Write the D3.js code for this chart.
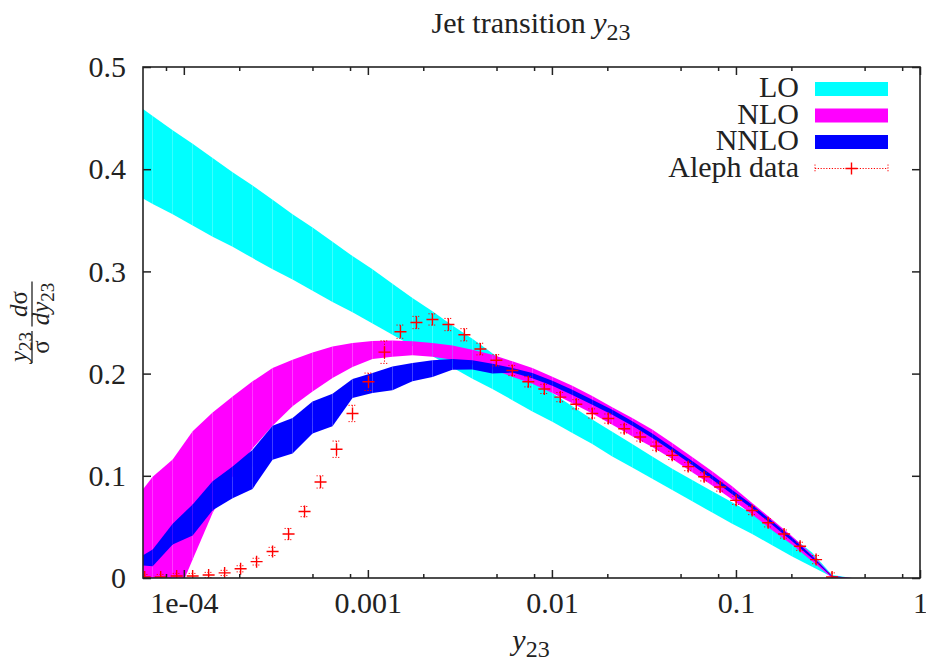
<!DOCTYPE html>
<html>
<head>
<meta charset="utf-8">
<script src="https://cdn.jsdelivr.net/npm/d3@7"></script>
<style>
  body { margin: 0; background: #fff; }
  text { font-family: "Liberation Serif", "DejaVu Serif", serif; fill: #222; }
</style>
</head>
<body>
<script>
// theory bands, sampled in y23
const bandX = [5.275e-5, 6.773e-5, 8.697e-5, 1.1167e-4, 1.4338e-4, 1.8411e-4, 2.364e-4, 3.0354e-4,
  3.8975e-4, 5.0045e-4, 6.4259e-4, 8.251e-4, 1.0595e-3, 1.3604e-3, 1.7467e-3, 2.2429e-3,
  2.8799e-3, 3.6979e-3, 4.7482e-3, 6.0967e-3, 7.8284e-3, 1.00518e-2, 1.2907e-2, 1.6573e-2,
  2.128e-2, 2.7324e-2, 3.5084e-2, 4.5049e-2, 5.7844e-2, 7.4274e-2, 9.5369e-2, 0.122456,
  0.157237, 0.201897, 0.25924, 0.332871, 0.427415];

const loHi = [0.466, 0.452, 0.438, 0.425, 0.411, 0.397, 0.384, 0.370, 0.356, 0.343, 0.329, 0.315,
  0.302, 0.288, 0.274, 0.261, 0.247, 0.234, 0.220, 0.207, 0.194, 0.181, 0.168, 0.155, 0.143,
  0.131, 0.119, 0.107, 0.096, 0.085, 0.074, 0.063, 0.052, 0.040, 0.025, 0.003, 0.0];
const loLo = [0.377, 0.366, 0.356, 0.345, 0.334, 0.324, 0.313, 0.302, 0.292, 0.281, 0.270, 0.260,
  0.249, 0.238, 0.227, 0.217, 0.206, 0.195, 0.185, 0.174, 0.163, 0.153, 0.142, 0.131, 0.119,
  0.108, 0.097, 0.086, 0.075, 0.064, 0.053, 0.043, 0.032, 0.021, 0.011, 0.001, 0.0];

const nloHi = [0.074, 0.099, 0.116, 0.1435, 0.162, 0.1777, 0.1924, 0.2055, 0.2136, 0.2207, 0.2266,
  0.2299, 0.232, 0.2325, 0.2316, 0.230, 0.2276, 0.2234, 0.2185, 0.212, 0.2055, 0.197, 0.188,
  0.178, 0.167, 0.1566, 0.1452, 0.1322, 0.1185, 0.1044, 0.0897, 0.0735, 0.0572, 0.0409, 0.023,
  0.002, 0.0];
const nloLo = [-0.12, -0.075, -0.028, 0.018, 0.0637, 0.0995, 0.127, 0.149, 0.168, 0.1826, 0.1957,
  0.2065, 0.2143, 0.2165, 0.218, 0.2165, 0.2135, 0.209, 0.204, 0.197, 0.190, 0.181, 0.171, 0.161,
  0.150, 0.1386, 0.1283, 0.1165, 0.1034, 0.0904, 0.0767, 0.0621, 0.0467, 0.0325, 0.0164, 0.0, 0.0];

const nnloHi = [0.016, 0.028, 0.053, 0.072, 0.0946, 0.109, 0.1256, 0.149, 0.1566, 0.1728, 0.1804,
  0.1947, 0.2006, 0.207, 0.2104, 0.213, 0.2143, 0.213, 0.2097, 0.2055, 0.2006, 0.1931, 0.1843,
  0.1745, 0.1647, 0.1533, 0.1413, 0.128, 0.1145, 0.1005, 0.0862, 0.0716, 0.0555, 0.0395, 0.0215,
  0.002, 0.0];
const nnloLo = [0.013, 0.0115, 0.0327, 0.0415, 0.0663, 0.078, 0.0872, 0.1158, 0.1217, 0.1413, 0.1484,
  0.1762, 0.181, 0.1836, 0.1924, 0.1967, 0.2038, 0.204, 0.200, 0.201, 0.1955, 0.188, 0.179, 0.1695,
  0.1598, 0.149, 0.137, 0.124, 0.1105, 0.0965, 0.082, 0.068, 0.052, 0.036, 0.019, 0.001, 0.0];

// Aleph data
const dataX = [6.128e-5, 7.485e-5, 9.142e-5, 1.1167e-4, 1.3639e-4, 1.6659e-4, 2.0347e-4, 2.4852e-4,
  3.0354e-4, 3.7074e-4, 4.5283e-4, 5.5308e-4, 6.7554e-4, 8.251e-4, 1.00779e-3, 1.2309e-3,
  1.5034e-3, 1.8363e-3, 2.2429e-3, 2.7394e-3, 3.346e-3, 4.0868e-3, 4.9916e-3, 6.0967e-3,
  7.4466e-3, 9.0953e-3, 1.1109e-2, 1.3569e-2, 1.6573e-2, 2.0242e-2, 2.4724e-2, 3.0197e-2,
  3.6883e-2, 4.5049e-2, 5.5023e-2, 6.7206e-2, 8.2085e-2, 0.100259, 0.122456, 0.149569,
  0.182684, 0.22313, 0.272532, 0.332871];
const dataY = [0.001, 0.001, 0.002, 0.002, 0.003, 0.005, 0.009, 0.016, 0.026, 0.043, 0.065, 0.094,
  0.126, 0.161, 0.192, 0.221, 0.241, 0.250, 0.253, 0.248, 0.238, 0.224, 0.213, 0.203, 0.192,
  0.185, 0.177, 0.170, 0.161, 0.156, 0.146, 0.138, 0.129, 0.120, 0.109, 0.099, 0.089, 0.076,
  0.066, 0.054, 0.043, 0.031, 0.018, 0.001];
const dataErr = [0.0025, 0.0025, 0.0025, 0.0025, 0.0025, 0.0025, 0.003, 0.0033, 0.004, 0.0055, 0.005,
  0.006, 0.008, 0.008, 0.0085, 0.011, 0.0065, 0.006, 0.0055, 0.006, 0.006, 0.0057, 0.0055, 0.005,
  0.005, 0.0045, 0.0045, 0.0045, 0.0045, 0.0045, 0.004, 0.004, 0.004, 0.004, 0.004, 0.004, 0.004,
  0.004, 0.004, 0.004, 0.004, 0.004, 0.004, 0.004];

const xTicks = [1e-4, 1e-3, 1e-2, 1e-1, 1];
const xTickLabels = ["1e-04", "0.001", "0.01", "0.1", "1"];
const xMinor = [8e-5, 2e-4, 5e-4, 8e-4, 2e-3, 5e-3, 8e-3, 2e-2, 5e-2, 8e-2, 0.2, 0.5, 0.8];
const yTicks = [0, 0.1, 0.2, 0.3, 0.4, 0.5];
const yTickLabels = ["0", "0.1", "0.2", "0.3", "0.4", "0.5"];

const legendNames = ["LO", "NLO", "NNLO", "Aleph data"];
const bandColors = ["#00ffff", "#ff00ff", "#0000ff"];

const W = 926, H = 660;
const pL = 143, pR = 920, pT = 67, pB = 578;

const svg = d3.select("body").append("svg")
    .attr("width", W)
    .attr("height", H);

const x = d3.scaleLog().domain([6e-5, 1]).range([pL, pR]);
const y = d3.scaleLinear().domain([0, 0.5]).range([pB, pT]);

svg.append("clipPath").attr("id", "plotclip")
  .append("rect")
    .attr("x", pL).attr("y", pT)
    .attr("width", pR - pL).attr("height", pB - pT);

const plot = svg.append("g").attr("clip-path", "url(#plotclip)");

const area = d3.area()
    .x(d => x(d.x))
    .y0(d => y(d.lo))
    .y1(d => y(d.hi));

// draw each band as slices, like the original gnuplot fill
function band(hi, lo, color) {
  const pts = bandX.map((v, i) => ({ x: v, hi: hi[i], lo: lo[i] }));
  const segs = d3.pairs(pts);
  plot.append("g").selectAll("path")
    .data(segs)
    .enter().append("path")
      .attr("d", area)
      .attr("fill", color);
}
band(loHi, loLo, bandColors[0]);
band(nloHi, nloLo, bandColors[1]);
band(nnloHi, nnloLo, bandColors[2]);

// data with dotted error bars
const pts = dataX.map((v, i) => ({ x: v, y: dataY[i], e: dataErr[i] }));
const dg = plot.append("g").selectAll("g")
    .data(pts)
    .enter().append("g")
      .attr("transform", d => `translate(${x(d.x)},${y(d.y)})`);

dg.append("path")
    .attr("d", d => {
      const h = y(0) - y(d.e);
      return `M0,${-h}V${h}M-4,${-h}H4M-4,${h}H4`;
    })
    .attr("fill", "none")
    .attr("stroke", "#ff0000")
    .attr("stroke-width", 1)
    .attr("stroke-dasharray", "1.2,1.6");

dg.append("path")
    .attr("d", "M-6,0H6M0,-6V6")
    .attr("stroke", "#ff0000")
    .attr("stroke-width", 1.4);

// axes, ticks pointing inwards
const axisCol = "#222";
const bx = svg.append("g").attr("transform", `translate(0,${pB})`)
    .call(d3.axisBottom(x).tickValues(xTicks).tickFormat((d, i) => xTickLabels[i])
      .tickSizeInner(-8).tickSizeOuter(0).tickPadding(14));
const bxm = svg.append("g").attr("transform", `translate(0,${pB})`)
    .call(d3.axisBottom(x).tickValues(xMinor).tickFormat("").tickSizeInner(-4).tickSizeOuter(0));
const tx = svg.append("g").attr("transform", `translate(0,${pT})`)
    .call(d3.axisTop(x).tickValues(xTicks).tickFormat("").tickSizeInner(-8).tickSizeOuter(0));
const txm = svg.append("g").attr("transform", `translate(0,${pT})`)
    .call(d3.axisTop(x).tickValues(xMinor).tickFormat("").tickSizeInner(-4).tickSizeOuter(0));
const ly = svg.append("g").attr("transform", `translate(${pL},0)`)
    .call(d3.axisLeft(y).tickValues(yTicks).tickFormat((d, i) => yTickLabels[i])
      .tickSizeInner(-8).tickSizeOuter(0).tickPadding(17));
const ry = svg.append("g").attr("transform", `translate(${pR},0)`)
    .call(d3.axisRight(y).tickValues(yTicks).tickFormat("").tickSizeInner(-8).tickSizeOuter(0));

[bx, bxm, tx, txm, ly, ry].forEach(a => {
  a.select(".domain").remove();
  a.selectAll("line").attr("stroke", axisCol).attr("stroke-width", 1.5);
  a.selectAll("text").style("font-size", "30px")
    .style("font-family", '"Liberation Serif", serif').attr("fill", "#222");
});

svg.append("rect")
    .attr("x", pL).attr("y", pT)
    .attr("width", pR - pL).attr("height", pB - pT)
    .attr("fill", "none")
    .attr("stroke", axisCol)
    .attr("stroke-width", 1.6);

// title
const title = svg.append("text")
    .attr("x", 531).attr("y", 33)
    .attr("text-anchor", "middle")
    .style("font-size", "30px");
title.append("tspan").text("Jet transition ");
title.append("tspan").style("font-style", "italic").text("y");
title.append("tspan").attr("dy", 7).style("font-size", "24px").text("23");

// x label
const xl = svg.append("text")
    .attr("x", 531).attr("y", 650)
    .attr("text-anchor", "middle")
    .style("font-size", "30px");
xl.append("tspan").style("font-style", "italic").text("y");
xl.append("tspan").attr("dy", 7).style("font-size", "24px").text("23");

// y label: two stacked fractions, rotated
const yl = svg.append("g").attr("transform", "translate(32,322) rotate(-90)");
function frac(cx, wbar, num, den) {
  yl.append("line")
    .attr("x1", cx - wbar / 2).attr("x2", cx + wbar / 2)
    .attr("y1", 0).attr("y2", 0)
    .attr("stroke", "#222").attr("stroke-width", 1.3);
  const n = yl.append("text").attr("x", cx).attr("y", -5)
    .attr("text-anchor", "middle").style("font-size", "25px");
  num(n);
  const d = yl.append("text").attr("x", cx).attr("y", 17)
    .attr("text-anchor", "middle").style("font-size", "25px");
  den(d);
}
frac(-25, 32, t => {
  t.append("tspan").style("font-style", "italic").text("y");
  t.append("tspan").attr("dy", 5).style("font-size", "19px").text("23");
}, t => t.append("tspan").text("σ"));
frac(18, 45, t => {
  t.append("tspan").style("font-style", "italic").text("d");
  t.append("tspan").text("σ");
}, t => {
  t.append("tspan").style("font-style", "italic").text("dy");
  t.append("tspan").attr("dy", 5).style("font-size", "19px").text("23");
});

// legend
const legY = [89, 115.5, 142, 168.5];
const leg = svg.append("g");
legendNames.forEach((name, i) => {
  leg.append("text")
    .attr("x", 799).attr("y", legY[i] + 8)
    .attr("text-anchor", "end")
    .style("font-size", "30px")
    .text(name);
  if (i < 3) {
    leg.append("rect")
      .attr("x", 815).attr("y", legY[i] - 7)
      .attr("width", 73).attr("height", 14)
      .attr("fill", bandColors[i]);
  } else {
    leg.append("path")
      .attr("d", `M815,${legY[i]}H888M815,${legY[i] - 4}V${legY[i] + 4}M888,${legY[i] - 4}V${legY[i] + 4}`)
      .attr("fill", "none").attr("stroke", "#ff0000")
      .attr("stroke-width", 1).attr("stroke-dasharray", "1.2,1.6");
    leg.append("path")
      .attr("d", `M845.5,${legY[i]}H857.5M851.5,${legY[i] - 6}V${legY[i] + 6}`)
      .attr("stroke", "#ff0000").attr("stroke-width", 1.4);
  }
});
</script>
</body>
</html>
